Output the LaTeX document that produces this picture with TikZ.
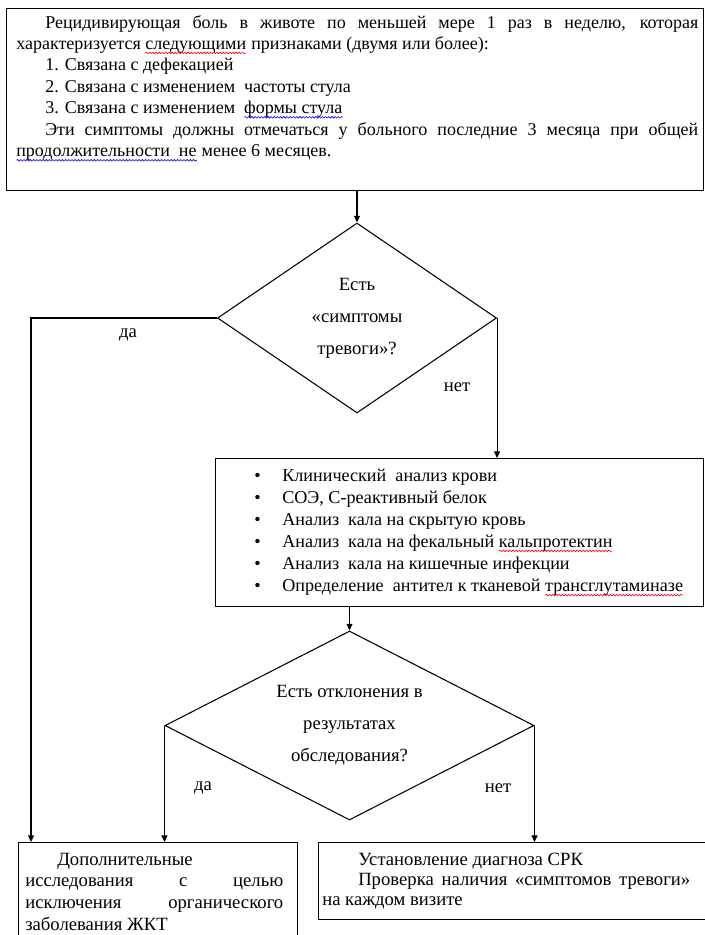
\documentclass[tikz,border=0pt]{standalone}
\usepackage{fontspec}
\setmainfont{Liberation Serif}
\usetikzlibrary{shapes.geometric,arrows.meta,decorations.pathmorphing}
\newsavebox\wvbox
\newcommand\wv[2]{\sbox\wvbox{#2}\rlap{\usebox\wvbox}\tikz[baseline=0pt]\draw[#1,line width=0.45pt,decorate,decoration={snake,amplitude=0.6pt,segment length=2.4pt}] (0pt,-2.6pt) -- (\wd\wvbox,-2.6pt);}
\newcommand\itm[1]{\makebox[21pt][l]{\textbullet}#1}
\newcommand\prep{\sloppy\hyphenpenalty=10000\exhyphenpenalty=10000}
\begin{document}
\begin{tikzpicture}[x=0.75pt,y=-0.75pt,
  box/.style={draw,line width=0.8pt,inner sep=0pt,anchor=north west},
  dia/.style={draw,diamond,line width=0.8pt,inner sep=0pt,align=center,font=\fontsize{14}{24}\selectfont},
  arr/.style={line width=0.8pt,-{Triangle[length=5pt,width=4.5pt]}},
  lbl/.style={font=\fontsize{14}{16}\selectfont,inner sep=0pt},
  txt/.style={inner sep=0pt,anchor=base west,font=\fontsize{14}{16.3}\selectfont}]
\path[use as bounding box] (0,0) rectangle (705,935);
% boxes
\node[box,minimum width=522.75pt,minimum height=136.5pt] (top) at (6,8) {};
\node[txt,font=\fontsize{13.5}{16.1}\selectfont] (toptext) at (16,28) {\parbox[t]{511.5pt}{\prep\setlength{\parindent}{21.75pt}Рецидивирующая боль в животе по меньшей мере 1 раз в неделю, которая\linebreak характеризуется \wv{red}{следующими} признаками (двумя или более):\par
1. Связана с дефекацией\par
2. Связана с изменением\ \ частоты стула\par
3. Связана с изменением\ \ \wv{blue}{формы стула}\par
Эти симптомы должны отмечаться у больного последние 3 месяца при общей\linebreak \wv{blue}{продолжительности\ \ не} менее 6 месяцев.}};
\node[box,minimum width=366pt,minimum height=111pt] (tests) at (215,458) {};
\node[txt,font=\fontsize{13.6}{16.6}\selectfont] (teststext) at (254,481) {\parbox[t]{340pt}{\raggedright
\itm{Клинический\ \ анализ крови}\\
\itm{СОЭ, С-реактивный белок}\\
\itm{Анализ\ \ кала на скрытую кровь}\\
\itm{Анализ\ \ кала на фекальный \wv{red}{кальпротектин}}\\
\itm{Анализ\ \ кала на кишечные инфекции}\\
\itm{Определение\ \ антител к тканевой \wv{red}{трансглутаминазе}}}};
\node[box,minimum width=209.25pt,minimum height=77.25pt] (bl) at (18,842) {};
\node[txt] (bltext) at (25,865) {\parbox[t]{193.5pt}{\prep\setlength{\parindent}{24pt}Дополнительные\\
исследования с целью\linebreak исключения органического\linebreak заболевания ЖКТ}};
\node[box,minimum width=291.75pt,minimum height=57.75pt] (br) at (318,842) {};
\node[txt,font=\fontsize{14}{15}\selectfont] (brtext) at (322,865) {\parbox[t]{276pt}{\prep\setlength{\parindent}{27pt}Установление диагноза СРК\par
Проверка наличия «симптомов тревоги»\linebreak на каждом визите}};
% diamonds
\node[dia,minimum width=209.25pt,minimum height=142.5pt,aspect=1.47] (d1) at (357,318) {Есть\\«симптомы\\тревоги»?};
\node[dia,minimum width=276.75pt,minimum height=141.75pt,aspect=1.96] (d2) at (349.5,725.5) {Есть отклонения в\\результатах\\обследования?};
% labels
\node[lbl] (y1) at (128,335) {да};
\node[lbl] (n1) at (457,387) {нет};
\node[lbl] (y2) at (203,788) {да};
\node[lbl] (n2) at (498,788) {нет};
% connectors
\coordinate (lx) at (31,318);
\draw[arr] (d1.north |- top.south) -- (d1.north);
\draw[arr] (d1.west) -- (lx) -- (lx |- bl.north);
\draw[arr] (d1.east) -- (d1.east |- tests.north);
\draw[arr] (d2.north |- tests.south) -- (d2.north);
\draw[arr] (d2.west) -- (d2.west |- bl.north);
\draw[arr] (d2.east) -- (d2.east |- br.north);
\end{tikzpicture}
\end{document}
